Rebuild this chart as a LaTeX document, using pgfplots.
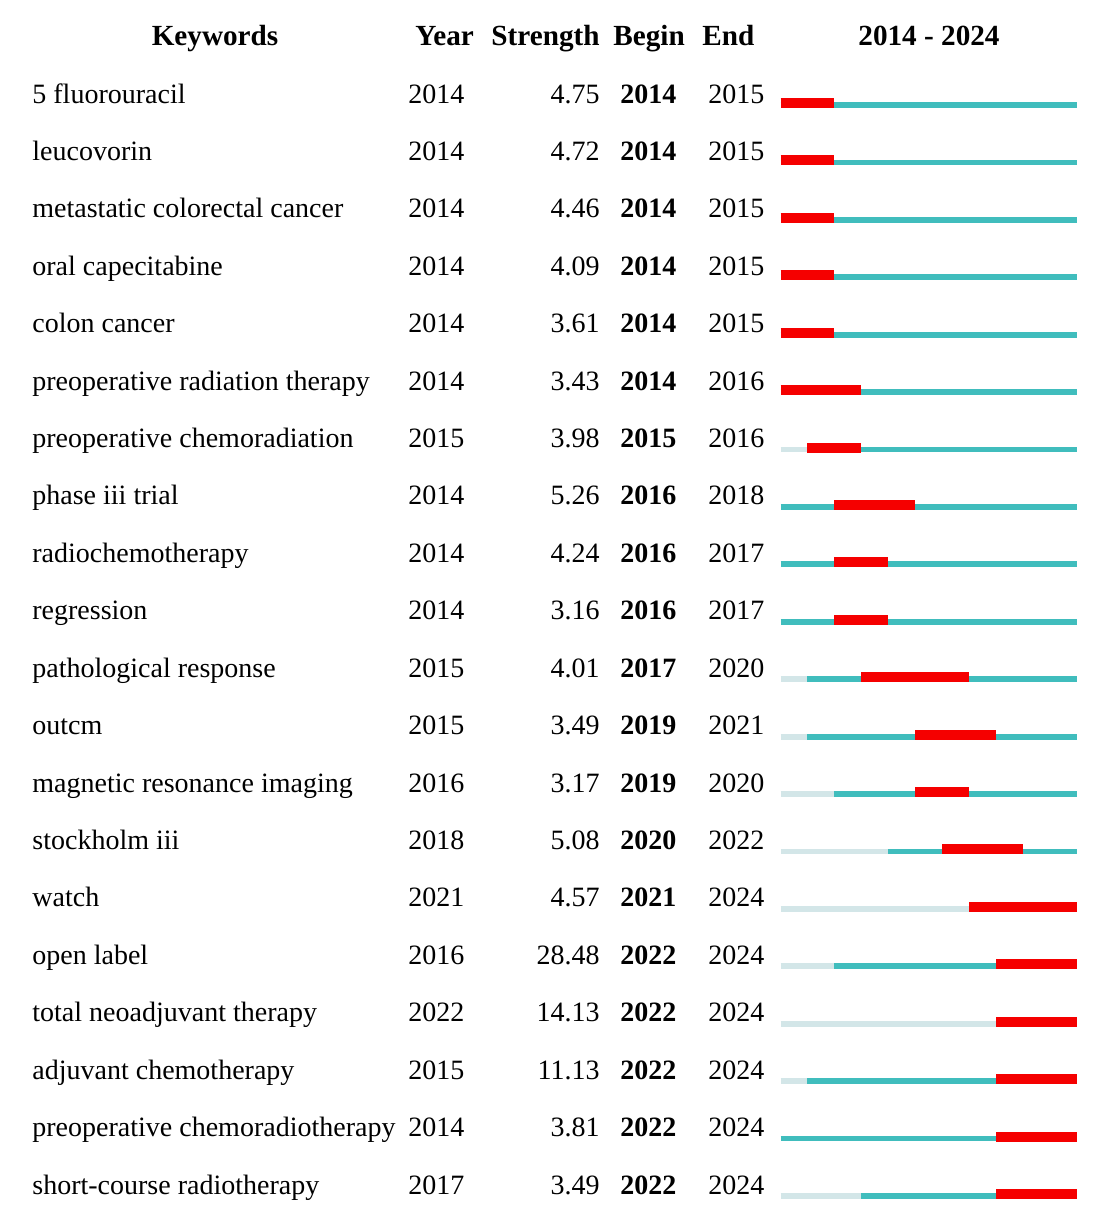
\documentclass[border=0pt]{standalone}
\usepackage{fontspec}
\setmainfont{Liberation Serif}
\usepackage{pgfplots}
\pgfplotsset{compat=1.18}
\definecolor{burst}{HTML}{F50000}
\definecolor{active}{HTML}{40BDBD}
\definecolor{idle}{HTML}{D3E6E8}
\tikzset{txt/.style={inner sep=0pt, font=\fontsize{14}{16}\selectfont},
         hdr/.style={inner sep=0pt, font=\fontsize{14.6}{17}\selectfont\bfseries}}
\newcommand\kwrow[6]{%
  \pgfmathtruncatemacro\rend{#6+1}%
  \edef\tmp{%
    \noexpand\addplot[idle,line width=2.9pt,yshift=-1pt,forget plot] coordinates {(2014,#1)(#3,#1)};
    \noexpand\addplot[active,line width=2.9pt,yshift=-1pt,forget plot] coordinates {(#3,#1)(2025,#1)};
    \noexpand\addplot[burst,line width=5pt,forget plot] coordinates {(#5,#1)(\rend,#1)};
  }\tmp
  \node[txt,anchor=base west] at (axis cs:1986.247,#1) {#2};
  \node[txt,anchor=base west] at (axis cs:2000.188,#1) {#3};
  \node[txt,anchor=base east] at (axis cs:2007.307,#1) {#4};
  \node[txt,anchor=base west] at (axis cs:2008.049,#1) {\bfseries #5};
  \node[txt,anchor=base west] at (axis cs:2011.312,#1) {#6};
}
\begin{document}
\begin{tikzpicture}
\begin{axis}[
  scale only axis, width=546pt, height=606.5pt,
  xmin=1985.060, xmax=2025.550,
  ymin=-0.794, ymax=20.331, y dir=reverse,
  hide axis, clip=false]
\node[hdr,anchor=base] at (axis cs:1993.033,-0.01) {Keywords};
\node[hdr,anchor=base west] at (axis cs:2000.448,-0.01) {Year};
\node[hdr,anchor=base east] at (axis cs:2007.307,-0.01) {Strength};
\node[hdr,anchor=base west] at (axis cs:2007.789,-0.01) {Begin};
\node[hdr,anchor=base west] at (axis cs:2011.089,-0.01) {End};
\node[hdr,anchor=base] at (axis cs:2019.506,-0.01) {2014 - 2024};
\kwrow{1}{5 fluorouracil}{2014}{4.75}{2014}{2015}
\kwrow{2}{leucovorin}{2014}{4.72}{2014}{2015}
\kwrow{3}{metastatic colorectal cancer}{2014}{4.46}{2014}{2015}
\kwrow{4}{oral capecitabine}{2014}{4.09}{2014}{2015}
\kwrow{5}{colon cancer}{2014}{3.61}{2014}{2015}
\kwrow{6}{preoperative radiation therapy}{2014}{3.43}{2014}{2016}
\kwrow{7}{preoperative chemoradiation}{2015}{3.98}{2015}{2016}
\kwrow{8}{phase iii trial}{2014}{5.26}{2016}{2018}
\kwrow{9}{radiochemotherapy}{2014}{4.24}{2016}{2017}
\kwrow{10}{regression}{2014}{3.16}{2016}{2017}
\kwrow{11}{pathological response}{2015}{4.01}{2017}{2020}
\kwrow{12}{outcm}{2015}{3.49}{2019}{2021}
\kwrow{13}{magnetic resonance imaging}{2016}{3.17}{2019}{2020}
\kwrow{14}{stockholm iii}{2018}{5.08}{2020}{2022}
\kwrow{15}{watch}{2021}{4.57}{2021}{2024}
\kwrow{16}{open label}{2016}{28.48}{2022}{2024}
\kwrow{17}{total neoadjuvant therapy}{2022}{14.13}{2022}{2024}
\kwrow{18}{adjuvant chemotherapy}{2015}{11.13}{2022}{2024}
\kwrow{19}{preoperative chemoradiotherapy}{2014}{3.81}{2022}{2024}
\kwrow{20}{short-course radiotherapy}{2017}{3.49}{2022}{2024}
\end{axis}
\path (current axis.south west) rectangle (current axis.north east);
\end{tikzpicture}
\end{document}
